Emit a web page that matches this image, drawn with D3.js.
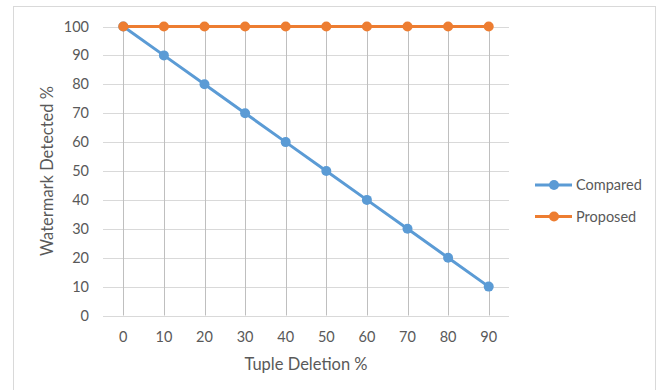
<!DOCTYPE html>
<html>
<head>
<meta charset="utf-8">
<script src="https://cdn.jsdelivr.net/npm/d3@7"></script>
<style>
  body { margin: 0; background: #fff; }
  text { font-family: Lato, "Open Sans", sans-serif; fill: #595959; }
</style>
</head>
<body>
<svg id="chart" width="662" height="390"></svg>
<script>
// tuple deletion steps (x categories)
var deletion = [0, 10, 20, 30, 40, 50, 60, 70, 80, 90];
var yTicks = [0, 10, 20, 30, 40, 50, 60, 70, 80, 90, 100];
var compared = [100, 90, 80, 70, 60, 50, 40, 30, 20, 10];
var proposed = [100, 100, 100, 100, 100, 100, 100, 100, 100, 100];
var seriesNames = ["Compared", "Proposed"];
var seriesColors = ["#5b9bd5", "#ed7d31"];

var svg = d3.select("#chart");

// outer chart frame
svg.append("rect")
  .attr("x", 13.5).attr("y", 6.5)
  .attr("width", 642).attr("height", 400)
  .attr("fill", "#fff").attr("stroke", "#d9d9d9");

var margin = {top: 26.5, left: 103, right: 509, bottom: 315.5};

var x = d3.scalePoint()
  .domain(deletion)
  .range([margin.left, margin.right])
  .padding(0.5);

var y = d3.scaleLinear()
  .domain([0, 100])
  .range([margin.bottom, margin.top]);

// horizontal gridlines
svg.append("g").selectAll("line")
  .data(yTicks)
  .join("line")
  .attr("x1", margin.left).attr("x2", margin.right)
  .attr("y1", d => Math.round(y(d)) + 0.5).attr("y2", d => Math.round(y(d)) + 0.5)
  .attr("stroke", "#d9d9d9");

// vertical gridlines
svg.append("g").selectAll("line")
  .data(deletion)
  .join("line")
  .attr("x1", d => Math.round(x(d)) + 0.5).attr("x2", d => Math.round(x(d)) + 0.5)
  .attr("y1", y(100)).attr("y2", y(0))
  .attr("stroke", "#bfbfbf");

// y tick labels
svg.append("g").selectAll("text")
  .data(yTicks)
  .join("text")
  .attr("x", 89)
  .attr("y", d => y(d))
  .attr("dy", "0.35em")
  .attr("text-anchor", "end")
  .attr("font-size", 14.5)
  .text(d => d);

// x tick labels
svg.append("g").selectAll("text")
  .data(deletion)
  .join("text")
  .attr("x", d => x(d))
  .attr("y", 337)
  .attr("dy", "0.35em")
  .attr("text-anchor", "middle")
  .attr("font-size", 14.5)
  .text(d => d);

// axis titles
svg.append("text")
  .attr("x", (margin.left + margin.right) / 2)
  .attr("y", 364)
  .attr("dy", "0.35em")
  .attr("text-anchor", "middle")
  .attr("font-size", 16.5)
  .text("Tuple Deletion %");

svg.append("text")
  .attr("transform", "translate(47," + (margin.top + margin.bottom) / 2 + ") rotate(-90)")
  .attr("dy", "0.35em")
  .attr("text-anchor", "middle")
  .attr("font-size", 16.5)
  .text("Watermark Detected %");

var line = d3.line()
  .x((d, i) => x(deletion[i]))
  .y(d => y(d));

[compared, proposed].forEach((vals, k) => {
  var g = svg.append("g");
  g.append("path")
    .datum(vals)
    .attr("d", line)
    .attr("fill", "none")
    .attr("stroke", seriesColors[k])
    .attr("stroke-width", 3)
    .attr("stroke-linecap", "round");
  g.selectAll("circle")
    .data(vals)
    .join("circle")
    .attr("cx", (d, i) => x(deletion[i]))
    .attr("cy", d => y(d))
    .attr("r", 5)
    .attr("fill", seriesColors[k]);
});

// legend
var legend = svg.append("g").selectAll("g")
  .data(seriesNames)
  .join("g")
  .attr("transform", (d, i) => "translate(0," + (185 + i * 31.5) + ")");

legend.append("line")
  .attr("x1", 535).attr("x2", 572)
  .attr("stroke", (d, i) => seriesColors[i])
  .attr("stroke-width", 3);
legend.append("circle")
  .attr("cx", 554).attr("r", 5)
  .attr("fill", (d, i) => seriesColors[i]);
legend.append("text")
  .attr("x", 576)
  .attr("dy", "0.35em")
  .attr("font-size", 14.5)
  .text(d => d);
</script>
</body>
</html>
